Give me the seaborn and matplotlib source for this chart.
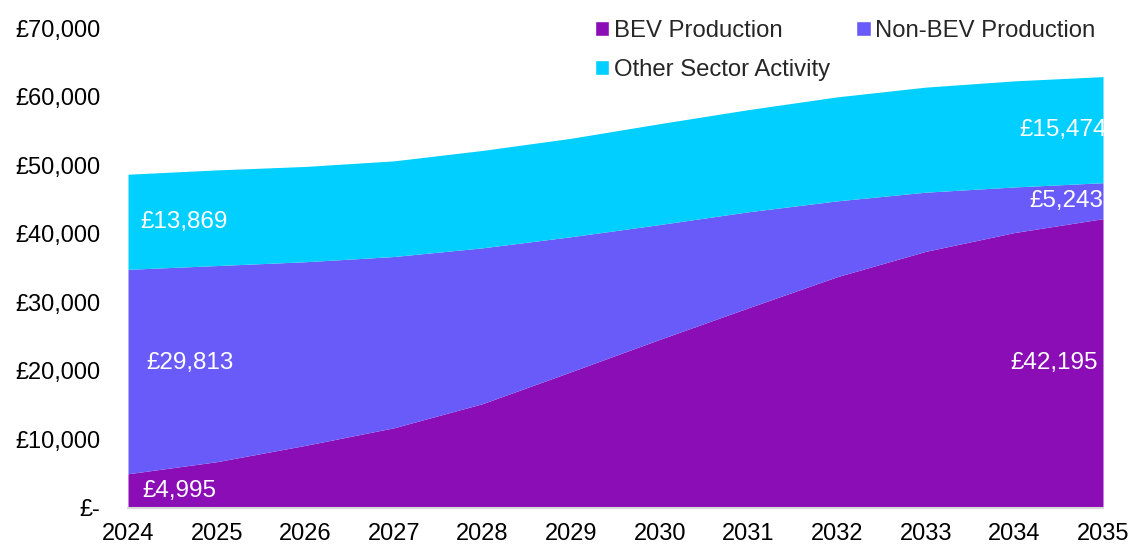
import numpy as np
import pandas as pd
import matplotlib
matplotlib.use("Agg")
import matplotlib.pyplot as plt
import seaborn as sns
from matplotlib.patches import Patch
from matplotlib.ticker import FuncFormatter

years = [2024, 2025, 2026, 2027, 2028, 2029, 2030, 2031, 2032, 2033, 2034, 2035]
bev = [4995, 6750, 9130, 11700, 15220, 19880, 24600, 29200, 33730, 37430, 40170, 42195]
non_bev = [29813, 28605, 26783, 24974, 22722, 19685, 16741, 14000, 11060, 8628, 6649, 5243]
other = [13869, 13949, 13897, 13949, 14203, 14355, 14710, 14900, 15167, 15319, 15471, 15474]
series_names = ["BEV Production", "Non-BEV Production", "Other Sector Activity"]
colors = ["#8A0DB5", "#695AFA", "#00CFFF"]
yticks = [0, 10000, 20000, 30000, 40000, 50000, 60000, 70000]

sns.set_style("white")
plt.rcParams['font.family'] = ['Liberation Sans', 'DejaVu Sans']

df = pd.DataFrame({"year": years, series_names[0]: bev,
                   series_names[1]: non_bev, series_names[2]: other})

fig = plt.figure(figsize=(11.32, 5.47), dpi=100)
ax = fig.add_axes([128/1132, 39/547, 975/1132, 480/547])

ax.stackplot(df["year"], df[series_names[0]], df[series_names[1]], df[series_names[2]],
             colors=colors, linewidth=0)

ax.set_xlim(years[0], years[-1])
ax.set_ylim(0, 70000)
ax.set_xticks(years)
ax.set_yticks(yticks)
ax.yaxis.set_major_formatter(FuncFormatter(lambda v, p: "£-" if v == 0 else f"£{int(v):,}"))
ax.tick_params(axis='both', labelsize=17, colors='black')
ax.tick_params(axis='y', length=0, pad=20)
ax.tick_params(axis='x', length=5, width=1.5, color='#D9D9D9', direction='out', pad=6)
sns.despine(ax=ax, left=True, top=True, right=True)
ax.spines['bottom'].set_color('#D9D9D9')
ax.spines['bottom'].set_linewidth(1.5)
ax.grid(False)

# labels
fs = 17.5
cum1 = bev[0] + non_bev[0]
ax.annotate(f"£{other[0]:,}", (years[0], cum1 + other[0] / 2), xytext=(12, 0),
            textcoords='offset pixels', ha='left', va='center', color='white', fontsize=fs)
ax.annotate(f"£{non_bev[0]:,}", (years[0], bev[0] + non_bev[0] / 2), xytext=(18, 9),
            textcoords='offset pixels', ha='left', va='center', color='white', fontsize=fs)
ax.annotate(f"£{bev[0]:,}", (years[0], bev[0] / 2), xytext=(14, 0),
            textcoords='offset pixels', ha='left', va='center', color='white', fontsize=fs)
cumL = bev[-1] + non_bev[-1]
ax.annotate(f"£{other[-1]:,}", (years[-1], cumL + other[-1] / 2), xytext=(4, 0),
            textcoords='offset pixels', ha='right', va='center', color='white', fontsize=fs,
            annotation_clip=False)
ax.annotate(f"£{non_bev[-1]:,}", (years[-1], bev[-1] + non_bev[-1] / 2), xytext=(0, 0),
            textcoords='offset pixels', ha='right', va='center', color='white', fontsize=fs,
            annotation_clip=False)
ax.annotate(f"£{bev[-1]:,}", (years[-1], bev[-1] / 2), xytext=(-5, 0),
            textcoords='offset pixels', ha='right', va='center', color='white', fontsize=fs,
            annotation_clip=False)

handles = [Patch(facecolor=colors[0], label=series_names[0]),
           Patch(facecolor=colors[2], label=series_names[2]),
           Patch(facecolor=colors[1], label=series_names[1])]
fig.legend(handles=handles, ncol=2, loc='upper left', bbox_to_anchor=(583/1132, 1 - 8/547),
           frameon=False, fontsize=17.2, handlelength=0.6, handleheight=0.6,
           handletextpad=0.2, columnspacing=1.09, labelspacing=0.7, borderpad=0)

fig.savefig("out.png", dpi=100)
